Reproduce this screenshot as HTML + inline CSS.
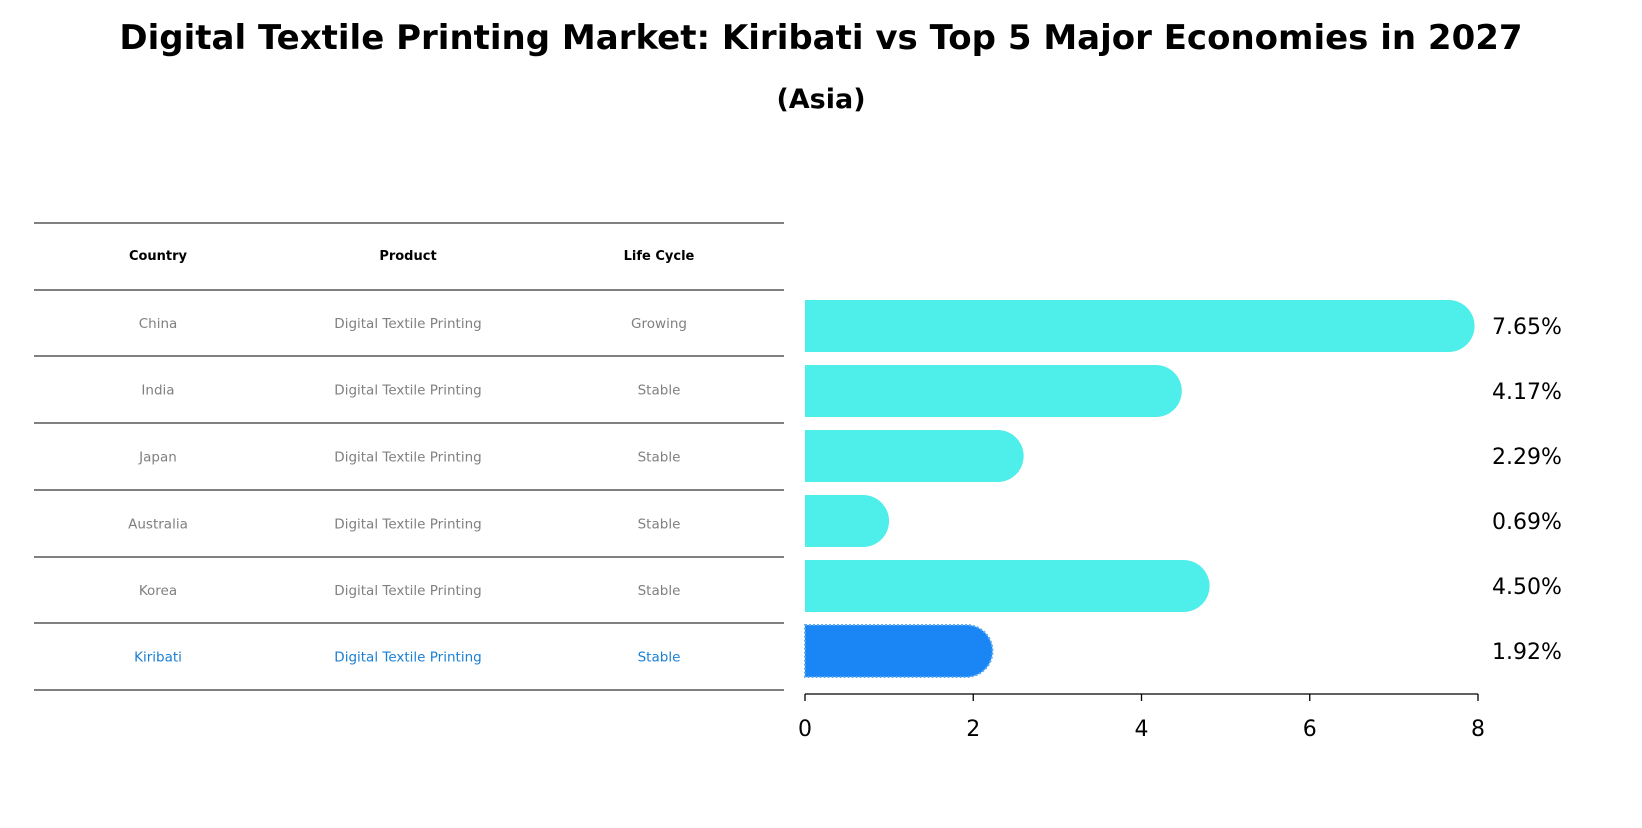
<!DOCTYPE html>
<html><head><meta charset="utf-8"><style>
body{margin:0;background:#fff;font-family:"Liberation Sans","DejaVu Sans",sans-serif;}
</style></head><body>
<svg width="1642" height="823" xmlns="http://www.w3.org/2000/svg" font-family="DejaVu Sans, Liberation Sans, sans-serif">
<text x="821" y="49" text-anchor="middle" font-size="34" font-weight="bold">Digital Textile Printing Market: Kiribati vs Top 5 Major Economies in 2027</text>
<text x="821" y="108" text-anchor="middle" font-size="27" font-weight="bold">(Asia)</text>
<g id="table"></g>
<g id="bars"></g>
<g id="axis"></g>
</svg>
<script>
const countries=["China","India","Japan","Australia","Korea","Kiribati"];
const products=["Digital Textile Printing","Digital Textile Printing","Digital Textile Printing","Digital Textile Printing","Digital Textile Printing","Digital Textile Printing"];
const lifecycle=["Growing","Stable","Stable","Stable","Stable","Stable"];
const values=[7.65,4.17,2.29,0.69,4.50,1.92];
const ticks=[0,2,4,6,8];
const NS="http://www.w3.org/2000/svg";
function mk(t,a,p,txt){const e=document.createElementNS(NS,t);for(const k in a)e.setAttribute(k,a[k]);if(txt!==undefined)e.textContent=txt;p.appendChild(e);return e;}
const x0=805,x1=1478,xmax=8;
const xs=v=>x0+(x1-x0)*v/xmax;
const rowY=i=>326+i*65;
const bh=52;
// table
const tb=document.getElementById('table');
const lines=[223,290,356,423,490,557,623,690];
lines.forEach((y,i)=>{const l=mk('line',{x1:34,x2:784,y1:y,y2:y,stroke:'#000','stroke-width':1},tb);

});
const cx=[158,408,659];
["Country","Product","Life Cycle"].forEach((h,j)=>{const t=mk('text',{x:cx[j],y:260,'text-anchor':'middle','font-size':13,'font-weight':'bold'},tb,h);

});
countries.forEach((c,i)=>{
 const y=(lines[i+1]+lines[i+2])/2+5;
 const col=c==="Kiribati"?"#1a7fd4":"#808080";
 [c,products[i],lifecycle[i]].forEach((v,j)=>{const t=mk('text',{x:cx[j],y:y,'text-anchor':'middle','font-size':13.5,fill:col},tb,v);
 
 });
});
// bars
const bg=document.getElementById('bars');
values.forEach((v,i)=>{
 const hl=countries[i]==="Kiribati";
 const y=rowY(i)-bh/2,r=bh/2,xe=xs(v);
 const d=`M${x0},${y} H${xe} A${r},${r} 0 0 1 ${xe},${y+bh} H${x0} Z`;
 const p=mk('path',{d:d,fill:hl?'#1a85f5':'#4eeeea',stroke:hl?'#5aa8f0':'none','stroke-width':hl?2:0,'stroke-dasharray':hl?'2,2':'none'},bg);
 
 
 const t=mk('text',{x:1492,y:rowY(i)+8,'font-size':22},bg,v.toFixed(2)+'%');
 
 
});
// axis
const ax=document.getElementById('axis');
mk('line',{x1:x0,x2:x1,y1:694,y2:694,stroke:'#000','stroke-width':1.3},ax);
ticks.forEach(t=>{const x=xs(t);
 mk('line',{x1:x,x2:x,y1:694,y2:701,stroke:'#000','stroke-width':1.3},ax);
 const l=mk('text',{x:x,y:736,'text-anchor':'middle','font-size':22},ax,String(t));
 
 });
</script>
</body></html>
